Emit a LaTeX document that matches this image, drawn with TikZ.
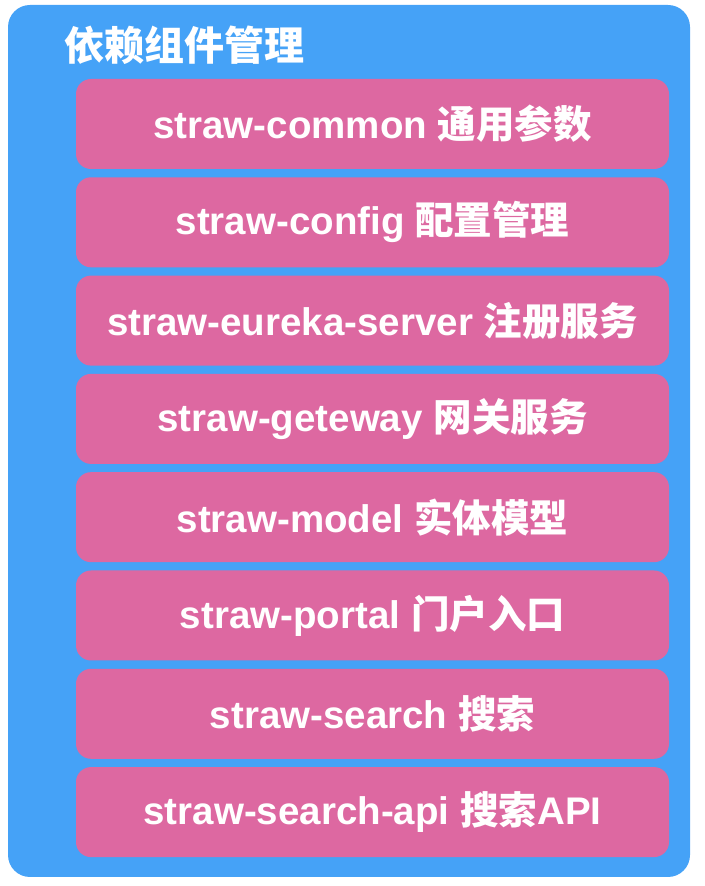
\documentclass[tikz,border=0pt]{standalone}
\usepackage{fontspec}
\setmainfont{Liberation Sans}
\newfontfamily\cjk{Noto Sans CJK SC}
\usepackage{xcolor}
\usetikzlibrary{positioning}
\definecolor{groupblue}{RGB}{69,162,247}
\definecolor{modpink}{RGB}{221,104,161}

\begin{document}
\begin{tikzpicture}[x=1pt,y=1pt,
    group/.style={fill=groupblue, rounded corners=22pt},
    modbox/.style={fill=modpink, rounded corners=15pt, minimum width=593pt,
        minimum height=90pt, outer sep=0pt, text=white, font=\fontsize{38.5}{42}\selectfont\bfseries},
    node distance=8.3pt]
    \useasboundingbox (0,0) rectangle (704,886);

    % Outer group
    \fill[group] (8,9) rectangle (690,881);
    \node[anchor=west, text=white, font=\fontsize{40}{44}\selectfont\cjk\bfseries] (title) at (61,841) {依赖组件管理};

    % Modules
    \node[modbox] (common) at (372.5,762) {straw-common {\cjk 通用参数}};
    \node[modbox, below=of common] (config) {straw-config {\cjk 配置管理}};
    \node[modbox, below=of config] (eureka) {straw-eureka-server {\cjk 注册服务}};
    \node[modbox, below=of eureka] (gateway) {straw-geteway {\cjk 网关服务}};
    \node[modbox, below=of gateway] (model) {straw-model {\cjk 实体模型}};
    \node[modbox, below=of model] (portal) {straw-portal {\cjk 门户入口}};
    \node[modbox, below=of portal] (search) {straw-search {\cjk 搜索}};
    \node[modbox, below=of search] (searchapi) {straw-search-api {\cjk 搜索}API};
\end{tikzpicture}
\end{document}
